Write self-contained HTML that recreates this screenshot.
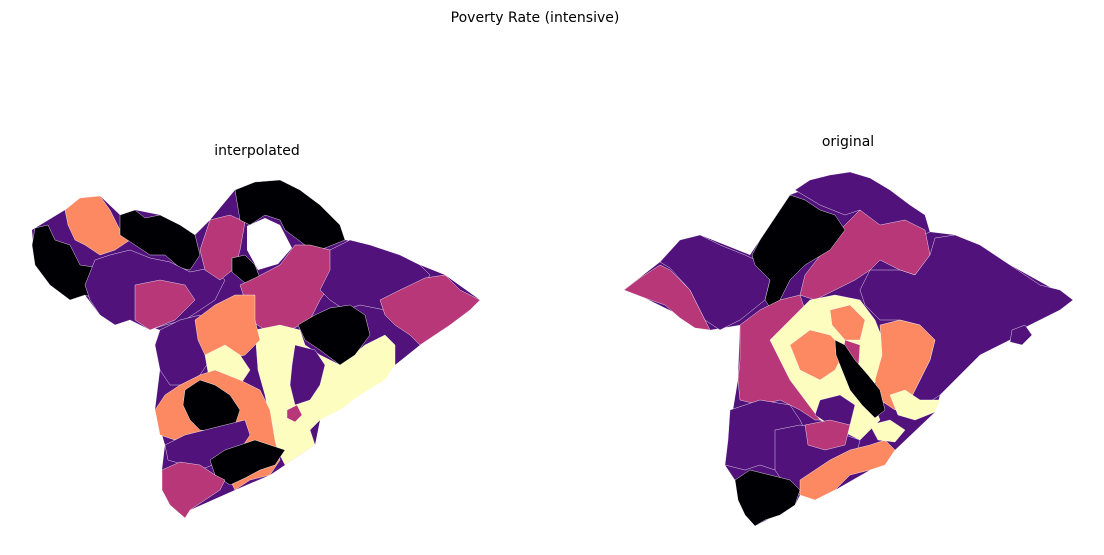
<!DOCTYPE html>
<html><head><meta charset="utf-8"><style>
html,body{margin:0;padding:0;background:#fff;}
svg{display:block;}
text{font-family:"DejaVu Sans","Liberation Sans",sans-serif;font-size:14px;fill:#000;}
</style></head><body>
<svg width="1104" height="555" viewBox="0 0 1104 555" xmlns="http://www.w3.org/2000/svg">
<text x="535" y="22" text-anchor="middle">Poverty Rate (intensive)</text>
<text x="257" y="155" text-anchor="middle">interpolated</text>
<text x="848" y="146" text-anchor="middle">original</text>
<polygon fill="#51127c" points="32,230 65,210 80,198 100,196 120,215 135,210 160,215 195,235 210,220 235,190 255,182 280,180 320,205 345,240 370,245 420,265 445,275 480,300 420,345 395,365 360,395 320,420 315,445 285,465 270,475 235,490 190,510 185,518 162,490 162,470 165,445 155,410 160,370 155,345 160,330 130,320 100,315 85,295 70,300 50,285 35,265"/>
<polygon fill="#51127c" points="624,290 660,262 680,240 700,235 750,255 790,195 850,172 890,190 930,232 955,235 1010,265 1073,300 1020,330 980,355 940,395 935,412 895,450 870,470 835,490 800,495 795,505 755,526 735,480 725,465 728,440 738,380 740,325 710,330 645,298"/>
<g stroke="#fff" stroke-width="0.4" stroke-linejoin="round">
<!-- LEFT MAP -->
<polygon fill="#000004" points="35,228 48,225 55,240 70,245 80,265 100,268 110,285 100,300 85,295 70,300 50,285 35,265 32,245"/>
<polygon fill="#fc8961" points="65,210 80,198 100,196 110,210 120,230 130,240 115,250 100,255 85,245 75,240 68,225"/>
<polygon fill="#000004" points="120,215 135,210 145,218 160,215 180,225 195,235 200,255 190,270 180,268 165,255 150,255 135,245 120,235"/>
<polygon fill="#51127c" points="85,285 95,260 110,255 130,250 150,258 170,262 190,272 210,268 225,280 215,300 200,310 185,320 165,325 150,330 130,320 115,325 100,315 90,300"/>
<polygon fill="#b73779" points="135,285 160,280 185,285 195,300 175,320 150,330 135,320"/>
<polygon fill="#b73779" points="210,220 230,215 245,222 240,250 235,268 220,280 205,270 200,250"/>
<polygon fill="#000004" points="235,190 255,182 280,180 300,190 320,205 340,225 345,240 320,250 305,245 285,230 280,220 265,215 250,225 240,220"/>
<polygon fill="#ffffff" stroke="none" points="247,226 265,218 280,225 292,248 278,264 258,270 247,250"/>
<polygon fill="#000004" points="232,258 245,255 255,265 260,278 245,283 232,272"/>
<polygon fill="#b73779" points="240,285 255,278 280,265 295,245 310,245 330,250 350,255 345,275 330,285 320,300 310,320 290,330 265,330 250,320 245,300"/>
<polygon fill="#51127c" points="330,250 350,240 370,245 400,255 420,265 430,275 420,290 400,300 385,310 360,305 345,310 330,300 320,290 330,270"/>
<polygon fill="#b73779" points="380,300 400,290 425,278 445,275 460,290 480,300 470,310 450,325 435,335 420,345 410,335 395,325 385,315"/>
<polygon fill="#fcfdbf" points="255,330 280,325 300,330 305,345 320,355 340,365 365,345 385,335 395,345 395,365 385,380 360,395 340,410 320,420 310,430 315,445 300,455 285,465 275,445 270,420 265,395 258,370"/>
<polygon fill="#51127c" points="295,345 315,350 325,365 320,385 310,400 295,405 290,385 292,365"/>
<polygon fill="#000004" points="298,325 315,315 330,308 350,305 365,315 370,335 355,355 340,365 320,350 305,340"/>
<polygon fill="#51127c" points="160,330 180,320 200,315 205,340 210,360 200,375 185,385 170,385 160,370 155,345"/>
<polygon fill="#fc8961" points="195,320 215,305 235,295 255,295 255,320 260,340 245,355 225,360 205,355 198,340"/>
<polygon fill="#fcfdbf" points="205,355 225,345 240,355 250,370 240,385 220,385 208,372"/>
<polygon fill="#fc8961" points="215,370 240,380 260,390 270,410 275,440 280,460 270,475 250,480 235,490 225,470 215,455 200,450 190,440 175,440 160,435 155,410 165,395 180,385 200,375"/>
<polygon fill="#000004" points="185,390 200,380 215,385 230,395 240,410 235,425 215,432 200,430 190,420 183,405"/>
<polygon fill="#51127c" points="165,445 185,435 205,430 225,425 245,420 250,435 240,450 225,460 205,468 185,465 168,460"/>
<polygon fill="#000004" points="210,460 225,450 240,445 255,440 270,445 285,450 275,465 260,470 245,478 230,485 215,475"/>
<polygon fill="#b73779" points="162,470 180,462 200,465 215,475 225,480 220,490 205,500 190,510 185,518 170,505 162,490"/>
<polygon fill="#b73779" points="287,410 297,405 302,415 295,422 287,418"/>
<!-- RIGHT MAP -->
<polygon fill="#b73779" points="624,290 640,278 660,265 670,270 690,290 700,310 710,330 695,328 680,318 665,305 645,298"/>
<polygon fill="#51127c" points="660,262 680,240 700,235 720,245 745,255 760,262 770,280 765,300 740,320 720,330 705,320 690,290 670,268"/>
<polygon fill="#51127c" points="795,190 810,180 830,175 850,172 870,178 890,190 910,205 925,215 930,232 910,240 880,230 860,210 845,215 820,205"/>
<polygon fill="#b73779" points="840,230 860,210 880,225 905,220 925,230 930,255 915,275 900,270 880,260 870,270 855,280 835,290 815,300 800,295 805,275"/>
<polygon fill="#000004" points="752,255 760,240 770,225 780,210 790,195 805,200 820,210 835,215 845,230 830,250 805,265 790,280 780,300 775,315 765,300 770,280 755,265"/>
<polygon fill="#51127c" points="870,270 900,270 915,275 930,255 935,238 955,235 980,245 1010,265 1040,285 1060,290 1073,300 1060,310 1040,320 1020,330 1010,340 980,355 965,370 950,385 940,395 925,405 910,400 920,380 930,360 935,340 920,325 900,320 880,320 865,305 860,290"/>
<polygon fill="#51127c" points="1012,330 1025,325 1032,335 1022,345 1010,342"/>
<polygon fill="#b73779" points="740,325 760,310 780,300 800,295 805,310 810,335 830,355 835,380 845,400 840,420 815,420 800,410 780,400 760,405 740,400 738,380 740,360"/>
<polygon fill="#fcfdbf" points="770,340 790,320 810,300 835,295 860,300 875,320 885,345 880,370 870,395 880,420 860,440 840,430 820,420 805,400 790,380 780,360"/>
<polygon fill="#fc8961" points="790,345 810,330 830,335 845,350 835,370 820,380 800,370"/>
<polygon fill="#fc8961" points="830,310 850,305 865,320 860,340 845,340 832,325"/>
<polygon fill="#b73779" points="845,340 860,345 858,375 848,380 842,360"/>
<polygon fill="#fc8961" points="880,325 900,320 920,325 935,340 930,360 920,380 910,400 895,410 880,400 875,380 882,355"/>
<polygon fill="#fcfdbf" points="890,395 905,390 920,400 940,400 935,412 915,420 898,415"/>
<polygon fill="#000004" points="835,340 845,345 855,360 868,375 880,390 885,410 875,418 862,405 850,390 842,370 836,355"/>
<polygon fill="#51127c" points="820,400 840,395 855,405 850,425 830,425 815,415"/>
<polygon fill="#51127c" points="730,410 760,400 790,405 800,420 805,430 795,445 790,460 775,470 760,465 745,470 725,465 728,440"/>
<polygon fill="#51127c" points="775,430 800,425 830,430 860,440 855,460 835,480 815,490 800,495 785,485 775,470"/>
<polygon fill="#b73779" points="805,425 830,420 850,425 845,445 825,450 808,445"/>
<polygon fill="#fc8961" points="800,480 815,470 830,460 850,450 870,445 885,440 895,450 885,465 870,470 850,475 835,490 815,500 800,495"/>
<polygon fill="#fcfdbf" points="870,425 890,420 905,430 895,442 878,440"/>
<polygon fill="#000004" points="735,480 750,470 770,475 790,480 800,490 795,505 780,515 765,520 755,526 745,515 738,500"/>
</g>
</svg>
</body></html>
